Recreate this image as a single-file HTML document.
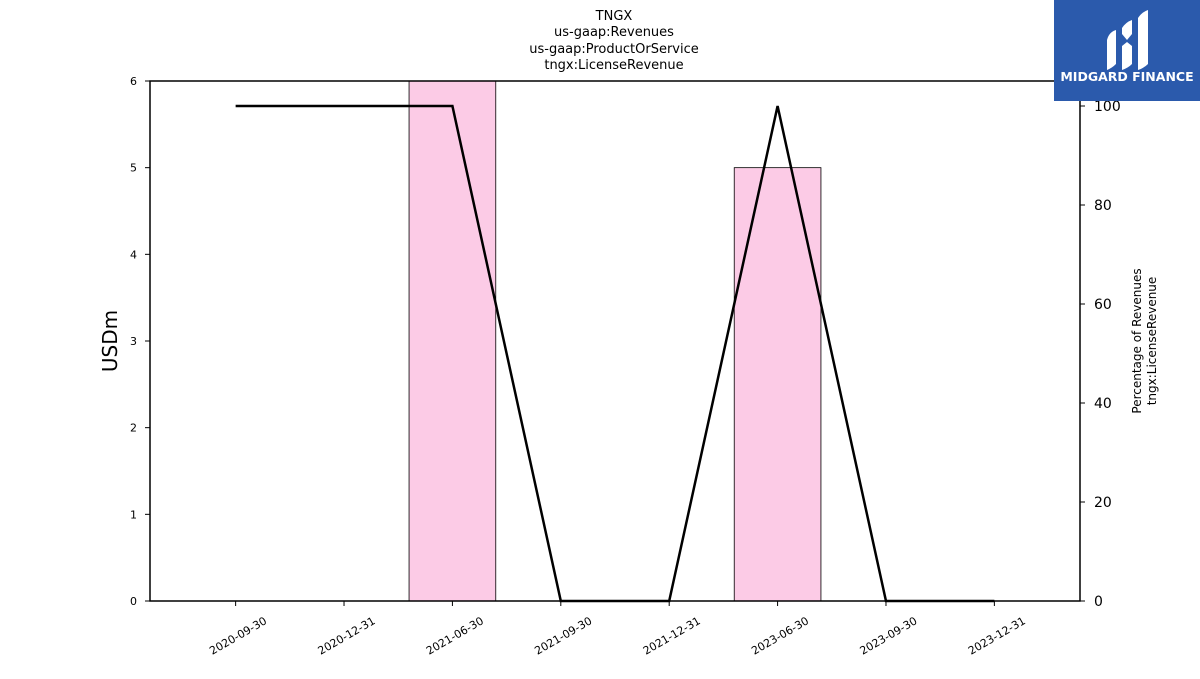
<!DOCTYPE html>
<html><head><meta charset="utf-8"><style>
body{margin:0;background:#fff;width:1200px;height:675px;overflow:hidden;font-family:"DejaVu Sans","Liberation Sans",sans-serif;}
</style></head><body>
<svg id="chart" width="1200" height="675" xmlns="http://www.w3.org/2000/svg" font-family="DejaVu Sans, Liberation Sans, sans-serif">
<g font-size="13" text-anchor="middle" fill="#000">
<text x="614" y="20">TNGX</text>
<text x="614" y="36">us-gaap:Revenues</text>
<text x="614" y="53">us-gaap:ProductOrService</text>
<text x="614" y="69">tngx:LicenseRevenue</text>
</g>
<g id="bars"></g>
<g id="axes"></g>
<path id="line" fill="none" stroke="#000" stroke-width="2.5" stroke-linejoin="miter"/>
<text transform="translate(117,341) rotate(-90)" text-anchor="middle" font-size="20">USDm</text>
<g font-size="12" text-anchor="middle">
<text transform="translate(1141,341) rotate(-90)">Percentage of Revenues</text>
<text transform="translate(1156,341) rotate(-90)">tngx:LicenseRevenue</text>
</g>
<g>
<rect x="1054" y="0" width="146" height="101" fill="#2b5aac"/>
<path d="M1107 40 Q1109 32 1116 30 L1116 64 Q1112 68 1107 70 Z" fill="#fff"/>
<path d="M1122 28 Q1126 22 1132 20 L1132 34 L1127 40 L1122 34 Z" fill="#fff"/>
<path d="M1122 46 L1127 42 L1132 46 L1132 64 Q1128 68 1122 70 Z" fill="#fff"/>
<path d="M1138 18 Q1142 12 1148 10 L1148 64 Q1144 68 1138 70 Z" fill="#fff"/>
<text x="1127" y="81" text-anchor="middle" font-size="12.5" font-weight="bold" fill="#fff">MIDGARD FINANCE</text>
</g>
</svg>
<script>
const categories=["2020-09-30","2020-12-31","2021-06-30","2021-09-30","2021-12-31","2023-06-30","2023-09-30","2023-12-31"];
const revenueValues=[0,0,6,0,0,5,0,0];
const percentValues=[100,100,100,0,0,100,0,0];
const leftTicks=[0,1,2,3,4,5,6];
const rightTicks=[0,20,40,60,80,100];
const NS="http://www.w3.org/2000/svg";
const L=150,R=1080,T=81,B=601;
const xMin=-0.79,xMax=7.79;
const x=i=>L+(i-xMin)/(xMax-xMin)*(R-L);
const y=v=>B-v/6*(B-T);
const y2=v=>B-v/105.05*(B-T);
function mk(tag,attrs,parent){const e=document.createElementNS(NS,tag);for(const k in attrs)e.setAttribute(k,attrs[k]);parent.appendChild(e);return e;}
const bars=document.getElementById('bars'),axes=document.getElementById('axes');
const bw=(x(0.4)-x(-0.4));
revenueValues.forEach((v,i)=>{if(v<=0)return;
const r=mk('rect',{x:x(i)-bw/2,y:y(v),width:bw,height:y(0)-y(v),fill:'#fccbe6',stroke:'#000','stroke-width':0.8},bars);

});
document.getElementById('line').setAttribute('d',percentValues.map((v,i)=>(i?'L':'M')+x(i)+' '+y2(v)).join(' '));
mk('rect',{x:L,y:T,width:R-L,height:B-T,fill:'none',stroke:'#000','stroke-width':1.5},axes);
leftTicks.forEach(t=>{mk('line',{x1:L-5,x2:L,y1:y(t),y2:y(t),stroke:'#000'},axes);
const tx=mk('text',{x:L-13,y:y(t)+4,'text-anchor':'end','font-size':11},axes);tx.textContent=t;

});
rightTicks.forEach(t=>{mk('line',{x1:R,x2:R+5,y1:y2(t),y2:y2(t),stroke:'#000'},axes);
const tx=mk('text',{x:R+14,y:y2(t)+5,'font-size':14},axes);tx.textContent=t;

});
categories.forEach((c,i)=>{mk('line',{x1:x(i),x2:x(i),y1:B,y2:B+5,stroke:'#000'},axes);
const tx=mk('text',{transform:`translate(${x(i)+32},${B+22}) rotate(-30)`,'text-anchor':'end','font-size':11},axes);tx.textContent=c;

});
</script>
</body></html>
